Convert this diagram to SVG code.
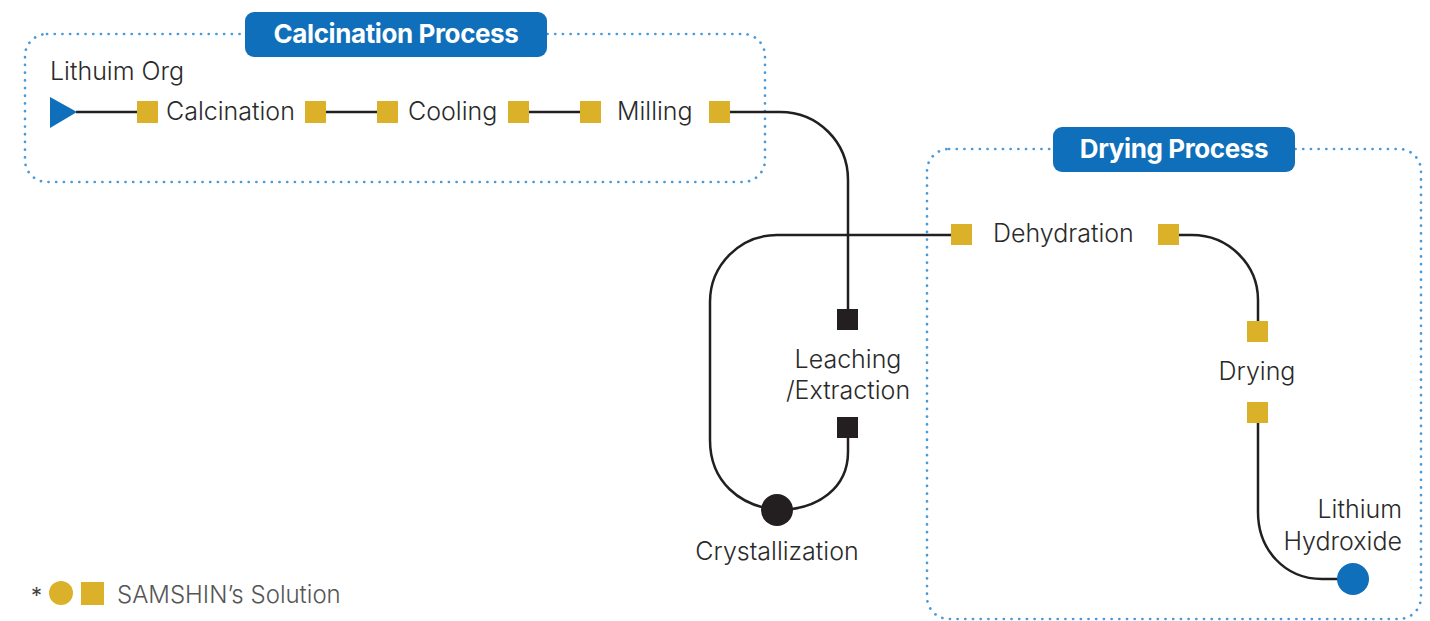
<svg xmlns="http://www.w3.org/2000/svg" width="1430" height="621" viewBox="0 0 1430 621">
<style>
.box{fill:none;stroke:#4b9ad8;stroke-width:2.7;stroke-dasharray:0.1 7.6;stroke-linecap:round}
.pill{fill:#0f6fba}
.ptxt{font-family:Inter,"Noto Sans",sans-serif;font-weight:700;font-size:26px;letter-spacing:-0.4px;fill:#fff;text-anchor:middle}
.lbl{font-family:Inter,"Noto Sans",sans-serif;font-size:25px;font-weight:300;fill:#2a2a2a}
.mid{text-anchor:middle}
.end{text-anchor:end}
.gold{fill:#dcb12a}
.blk{fill:#231f20}
.conn{fill:none;stroke:#231f20;stroke-width:2.5}
</style>
<rect width="1430" height="621" fill="#fff"/>
<g id="calcination-group">
<rect class="box" x="25" y="34" width="740" height="148" rx="22"/>
<rect class="pill" x="245" y="12" width="302" height="45" rx="9"/>
<text class="ptxt" x="396" y="43">Calcination Process</text>
</g>
<g id="drying-group">
<rect class="box" x="927" y="149" width="494" height="470" rx="22"/>
<rect class="pill" x="1053" y="127" width="242" height="45" rx="9"/>
<text class="ptxt" x="1174" y="158">Drying Process</text>
</g>
<g id="connectors">
<path class="conn" d="M76,112 H137"/>
<path class="conn" d="M326,112 H377"/>
<path class="conn" d="M528,112 H580"/>
<path class="conn" d="M730,112 H780 C818,112 848,142 848,180 V310"/>
<path class="conn" d="M951,235 H777 C740,235 710,265 710,302 V440 C710,482 740,506 777,510"/>
<path class="conn" d="M848,437 V452 C848,488 818,510 777,510"/>
<path class="conn" d="M1178,235 H1192 C1228,235 1258,264 1258,300 V321"/>
<path class="conn" d="M1258,422 V512 C1258,550 1285,579 1322,579 H1350"/>
</g>
<g id="lithium-org">
<text class="lbl" x="50" y="80">Lithuim Org</text>
<polygon points="50,97 77,112 50,128" fill="#0f6fba"/>
</g>
<g id="calcination">
<rect class="gold" x="137" y="101" width="21" height="22"/>
<text class="lbl" x="166" y="120">Calcination</text>
<rect class="gold" x="305" y="101" width="21" height="22"/>
</g>
<g id="cooling">
<rect class="gold" x="377" y="101" width="21" height="22"/>
<text class="lbl" x="408" y="120">Cooling</text>
<rect class="gold" x="508" y="101" width="21" height="22"/>
</g>
<g id="milling">
<rect class="gold" x="580" y="101" width="21" height="22"/>
<text class="lbl" x="617" y="120">Milling</text>
<rect class="gold" x="709" y="101" width="21" height="22"/>
</g>
<g id="leaching">
<rect class="blk" x="837" y="309" width="21" height="21"/>
<text class="lbl mid" x="848" y="368">Leaching</text>
<text class="lbl mid" x="848" y="399">/Extraction</text>
<rect class="blk" x="837" y="417" width="21" height="21"/>
</g>
<g id="crystallization">
<circle class="blk" cx="777" cy="510" r="16"/>
<text class="lbl mid" x="777" y="560">Crystallization</text>
</g>
<g id="dehydration">
<rect class="gold" x="951" y="224" width="21" height="21"/>
<text class="lbl" x="993" y="242">Dehydration</text>
<rect class="gold" x="1158" y="224" width="21" height="21"/>
</g>
<g id="drying">
<rect class="gold" x="1247" y="321" width="21" height="21"/>
<text class="lbl mid" x="1257" y="380">Drying</text>
<rect class="gold" x="1247" y="402" width="21" height="21"/>
</g>
<g id="lithium-hydroxide">
<text class="lbl end" x="1402" y="518">Lithium</text>
<text class="lbl end" x="1402" y="550">Hydroxide</text>
<circle cx="1353" cy="579" r="16" fill="#0f6fba"/>
</g>
<g id="legend">
<text x="31" y="603" style="font-family:Inter,'Noto Sans',sans-serif;font-size:22px;fill:#444">*</text>
<circle class="gold" cx="61" cy="593" r="12"/>
<rect class="gold" x="81" y="582" width="23" height="23"/>
<text x="117" y="603" style="font-family:Inter,'Noto Sans',sans-serif;font-size:24px;font-weight:300;fill:#555">SAMSHIN’s Solution</text>
</g>
</svg>
